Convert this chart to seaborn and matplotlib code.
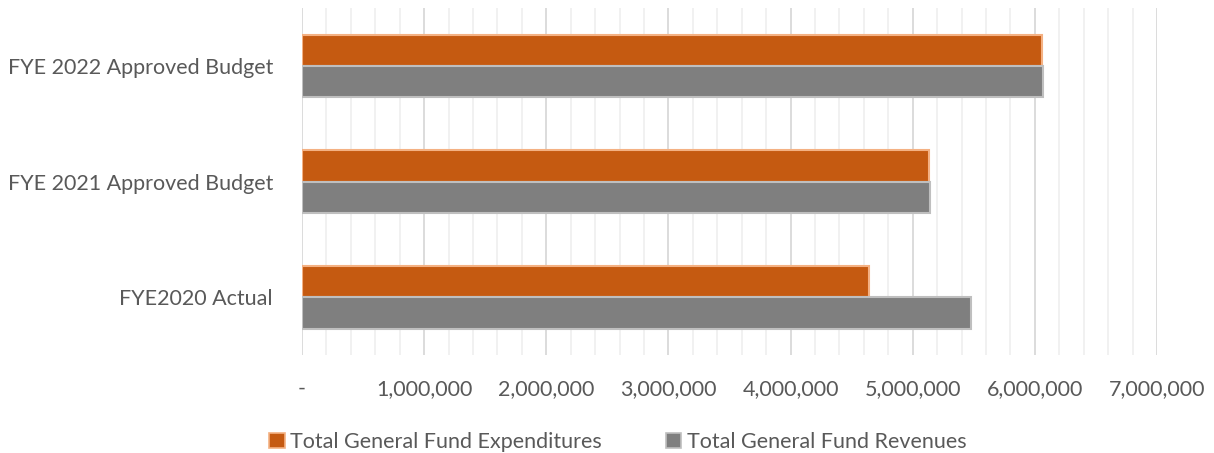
import matplotlib
matplotlib.use("Agg")
import matplotlib.pyplot as plt
from matplotlib.ticker import MultipleLocator, FuncFormatter
from matplotlib.patches import Patch
import pandas as pd
import seaborn as sns

categories = ["FYE 2022 Approved Budget", "FYE 2021 Approved Budget", "FYE2020 Actual"]
expenditures = [6058000, 5133000, 4642000]
revenues = [6066000, 5140000, 5477000]
series_names = ["Total General Fund Expenditures", "Total General Fund Revenues"]

df = pd.DataFrame({
    "category": categories * 2,
    "amount": expenditures + revenues,
    "series": [series_names[0]] * len(categories) + [series_names[1]] * len(categories),
})

sns.set_style("white")
plt.rcParams["font.family"] = ["Lato", "DejaVu Sans"]

text_color = "#595959"
fills = ["#C55A11", "#7F7F7F"]
edges = ["#F4B183", "#BFBFBF"]
fs = 15.5

fig = plt.figure(figsize=(12.14, 4.53), dpi=100)
ax = fig.add_axes([0.2488, 0.216, 0.953 - 0.2488, 0.982 - 0.216])

sns.barplot(data=df, y="category", x="amount", hue="series", order=categories,
            hue_order=series_names, palette=fills, width=0.54, orient="h",
            saturation=1, ax=ax, legend=False)

for cont, ec in zip(ax.containers, edges):
    for bar in cont:
        bar.set_edgecolor(ec)
        bar.set_linewidth(1.5)

ax.set_xlim(0, 7000000)
ax.set_ylim(2.5, -0.5)
ax.xaxis.set_major_locator(MultipleLocator(1000000))
ax.xaxis.set_minor_locator(MultipleLocator(200000))
ax.xaxis.set_major_formatter(FuncFormatter(lambda v, p: "-" if v == 0 else f"{v:,.0f}"))
ax.grid(axis="x", which="major", color="#D9D9D9", linewidth=1.3)
ax.grid(axis="x", which="minor", color="#F0F0F0", linewidth=1.3)
ax.grid(axis="y", visible=False)
ax.set_axisbelow(True)
for s in ax.spines.values():
    s.set_visible(False)

ax.tick_params(axis="x", which="both", length=0, pad=17, labelsize=fs, labelcolor=text_color)
ax.tick_params(axis="y", length=0, pad=21, labelsize=fs, labelcolor=text_color)
ax.set_xlabel("")
ax.set_ylabel("")

handles = [Patch(facecolor=f, edgecolor=e, linewidth=1.2) for f, e in zip(fills, edges)]
fig.legend(handles, series_names, loc="center", bbox_to_anchor=(0.509, 0.025),
           ncol=2, frameon=False, fontsize=fs, labelcolor=text_color,
           handlelength=0.7, handleheight=0.7, handletextpad=0.25, columnspacing=3.0)

fig.savefig("out.png", dpi=100)
